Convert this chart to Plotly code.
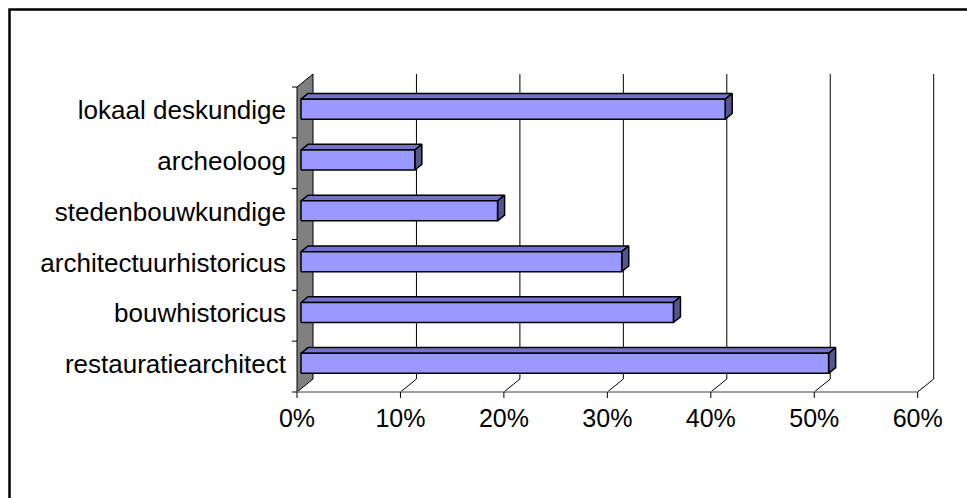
import plotly.graph_objects as go

# ---- data ----
categories = ["restauratiearchitect", "bouwhistoricus", "architectuurhistoricus",
              "stedenbouwkundige", "archeoloog", "lokaal deskundige"]
values = [0.51, 0.36, 0.31, 0.19, 0.11, 0.41]
x_ticks = [0.0, 0.1, 0.2, 0.3, 0.4, 0.5, 0.6]
x_tick_labels = ["0%", "10%", "20%", "30%", "40%", "50%", "60%"]

# ---- geometry / style ----
W, H = 967, 498
PL, PR, PT, PB = 291, 935, 72, 399      # plot area in pixels
X0PX, PXU = 297, 1034.5                 # front-plane zero and px per unit
YB_PX, BAND = 392, 50.83                # front-plane bottom and px per category
DEPTH_PX_X, DEPTH_PX_Y = 16, 13
DX = DEPTH_PX_X / PXU
DY = DEPTH_PX_Y / BAND
F0, F1 = 0.25, 0.69                     # bar front/back depth fractions
HALF = 10 / BAND                        # half bar height
TICK_X = 5 / PXU
TICK_Y = 6 / BAND
LABEL_LIFT = 2.5 / BAND

n = len(categories)
ylo, yhi = -0.5, n - 0.5
xmax = x_ticks[-1]

FONT = "Liberation Sans, Arial, sans-serif"
C_FRONT, C_TOP, C_SIDE = "#9999FF", "#7373CC", "#55558F"

fig = go.Figure()


def poly(xs, ys, fill, lw=1.5, lc="black"):
    fig.add_trace(go.Scatter(x=xs + [xs[0]], y=ys + [ys[0]], mode="lines", fill="toself",
                             fillcolor=fill, line=dict(color=lc, width=lw),
                             hoverinfo="skip", showlegend=False))


def seg(xs, ys, color="black", w=1):
    fig.add_trace(go.Scatter(x=xs, y=ys, mode="lines", line=dict(color=color, width=w),
                             hoverinfo="skip", showlegend=False))


# left wall
poly([0, 0, DX, DX], [ylo, yhi, yhi + DY, ylo + DY], "#808080", lw=1)

# back-wall gridlines and floor slants
for t in x_ticks[1:]:
    seg([t, t + DX, t + DX], [ylo, ylo + DY, yhi + DY], "black", 1)

# floor front line
seg([0, xmax], [ylo, ylo], "#808080", 1.5)

# x tick marks
for t in x_ticks:
    seg([t, t], [ylo, ylo - TICK_Y], "black", 1)

# category tick marks
for k in range(n + 1):
    yb = ylo + k
    seg([-TICK_X, 0], [yb, yb], "black", 1)

# bars
for i, v in enumerate(values):
    fx0, fx1 = F0 * DX, v + F0 * DX
    bx1 = v + F1 * DX
    fy0, fy1 = i - HALF + F0 * DY, i + HALF + F0 * DY
    by0, by1 = i - HALF + F1 * DY, i + HALF + F1 * DY
    poly([fx0, fx1, bx1, F1 * DX], [fy1, fy1, by1, by1], C_TOP)
    poly([fx1, fx1, bx1, bx1], [fy0, fy1, by1, by0], C_SIDE)
    poly([fx0, fx1, fx1, fx0], [fy0, fy0, fy1, fy1], C_FRONT)

xr = [(PL - X0PX) / PXU, (PR - X0PX) / PXU]
yr = [ylo + (YB_PX - PB) / BAND, ylo + (YB_PX - PT) / BAND]

pw, ph = PR - PL, PB - PT


def px2paper_x(px):
    return (px - PL) / pw


def px2paper_y(py):
    return (PB - py) / ph


fig.update_layout(
    width=W, height=H,
    margin=dict(l=PL, r=W - PR, t=PT, b=H - PB, pad=0),
    paper_bgcolor="white", plot_bgcolor="white",
    font=dict(family=FONT, color="black"),
    xaxis=dict(range=xr, tickvals=x_ticks, ticktext=x_tick_labels, showgrid=False,
               zeroline=False, showline=False, ticks="", tickfont=dict(size=25),
               ticklabelstandoff=2, fixedrange=True),
    yaxis=dict(range=yr, tickvals=[i + LABEL_LIFT for i in range(n)], ticktext=categories,
               showgrid=False, zeroline=False, showline=False, ticks="",
               tickfont=dict(size=26), ticklabelstandoff=4, fixedrange=True),
    shapes=[dict(type="rect", xref="paper", yref="paper",
                 x0=px2paper_x(9.5), x1=px2paper_x(990), y0=px2paper_y(520), y1=px2paper_y(9.5),
                 line=dict(color="black", width=2.5), layer="above")],
)

fig.write_html("out.html", config={"displayModeBar": False},
               post_script="document.body.style.margin='0';document.body.style.overflow='hidden';")
